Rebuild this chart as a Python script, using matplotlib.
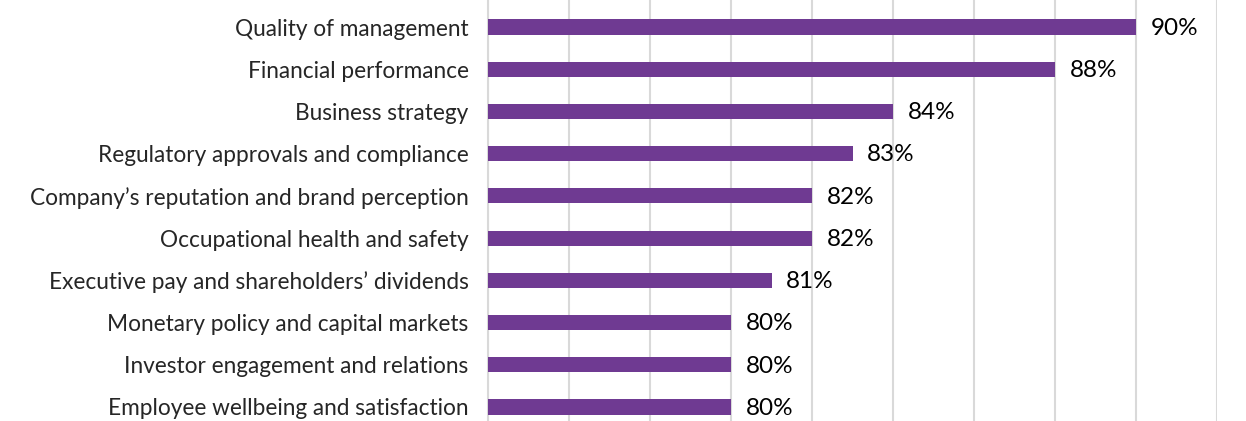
import matplotlib
matplotlib.use("Agg")
import matplotlib.pyplot as plt
import numpy as np

# data
categories = [
    "Quality of management",
    "Financial performance",
    "Business strategy",
    "Regulatory approvals and compliance",
    "Company\u2019s reputation and brand perception",
    "Occupational health and safety",
    "Executive pay and shareholders\u2019 dividends",
    "Monetary policy and capital markets",
    "Investor engagement and relations",
    "Employee wellbeing and satisfaction",
]
values = [90, 88, 84, 83, 82, 82, 81, 80, 80, 80]
xticks = list(range(74, 93, 2))

plt.rcParams['font.family'] = ['Lato', 'DejaVu Sans']

fig = plt.figure(figsize=(12.46, 4.21), dpi=100)
ax = fig.add_axes([488 / 1246, 0.0, (1217 - 488) / 1246, 1.0])

y = np.arange(len(categories))
ax.barh(y, values, height=0.36, color="#6F3A92", zorder=3)

# value labels to the right of each bar
for yi, v in zip(y, values):
    ax.text(v + 0.36, yi + 0.03, f"{v}%", va="center", ha="left",
            fontsize=17.5, color="black", zorder=4)

ax.set_xlim(74, 92)
ax.set_ylim(9 + 14 / 42.2, -27 / 42.2)
ax.set_xticks(xticks)
ax.set_xticklabels([])
ax.set_yticks(y)
ax.set_yticklabels(categories, fontsize=16.3, color="#262626")
ax.tick_params(axis="y", length=0, pad=14)
ax.tick_params(axis="x", length=0)

ax.grid(axis="x", color="#D9D9D9", linewidth=1.5, zorder=0)
for side in ["top", "right", "bottom"]:
    ax.spines[side].set_visible(False)
ax.spines["left"].set_color("#D9D9D9")
ax.spines["left"].set_linewidth(1.5)

fig.savefig("out.png", dpi=100)
